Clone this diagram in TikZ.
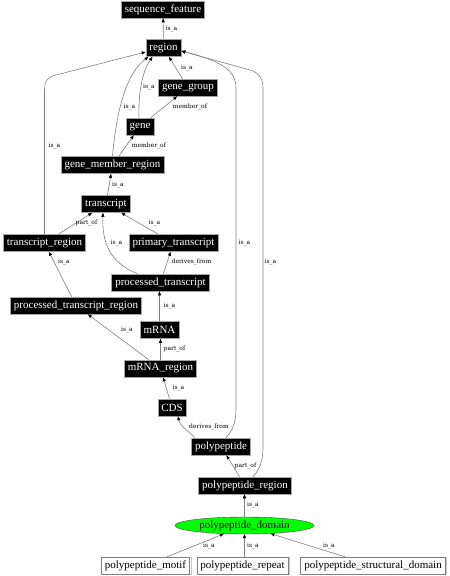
\documentclass[tikz,border=0pt]{standalone}
\usepackage{fontspec}
\setmainfont{Liberation Serif}
\newfontfamily\lblfont{DejaVu Serif}
\usetikzlibrary{arrows.meta,shapes.geometric}
\begin{document}
\begin{tikzpicture}[x=1pt,y=-1pt,
 box/.style={draw=gray!70,fill=black,text=white,font=\fontsize{11}{12}\selectfont,inner xsep=3.5pt,inner ysep=0pt,minimum height=17pt,line width=0.6pt},
 wbox/.style={box,fill=white,text=black,draw=gray,preaction={draw=gray!45,transform canvas={xshift=1.3pt,yshift=-0.6pt}}},
 edge/.style={draw=gray,line width=0.6pt,-{Triangle[length=4pt,width=3pt,color=black]}},
 lbl/.style={font=\lblfont\fontsize{6}{7}\selectfont,inner sep=0pt}]
\fill[white] (0,0) rectangle (450,576);
\useasboundingbox (0,0) rectangle (450,576);
% nodes
\node[box] (sf) at (163,9.5) {sequence\_feature};
\node[box] (region) at (163.5,48) {region};
\node[box] (gg) at (188,87.5) {gene\_group};
\node[box] (gene) at (140,126.5) {gene};
\node[box] (gmr) at (112.5,165) {gene\_member\_region};
\node[box] (tx) at (106,204) {transcript};
\node[box] (txreg) at (44.5,243) {transcript\_region};
\node[box] (prim) at (173.5,243) {primary\_transcript};
\node[box] (proc) at (160.5,282.5) {processed\_transcript};
\node[box] (procreg) at (76,305.5) {processed\_transcript\_region};
\node[box] (mrna) at (159.5,330) {mRNA};
\node[box] (mrnareg) at (160.5,368.5) {mRNA\_region};
\node[box] (cds) at (172,407.5) {CDS};
\node[box] (poly) at (221,446.5) {polypeptide};
\node[box] (polyreg) at (245,485.5) {polypeptide\_region};
\node[ellipse,draw=black!70,fill=green,minimum width=139pt,minimum height=17pt,inner sep=0pt,font=\fontsize{11}{12}\selectfont] (dom) at (244.5,525.5) {polypeptide\_domain};
\node[wbox] (motif) at (145.5,565.5) {polypeptide\_motif};
\node[wbox] (rep) at (242.5,565.5) {polypeptide\_repeat};
\node[wbox] (struct) at (373,565.5) {polypeptide\_structural\_domain};
% edges
\draw[edge] (region) -- (sf) node[lbl] at (171.5,29) {is\_a};
\draw[edge] (gg) -- (region) node[lbl] at (187,68) {is\_a};
\draw[edge] ([xshift=-1pt]gene.north) .. controls (138,92) and (143,70) .. ([xshift=-11pt]region.south) node[lbl] at (149,87) {is\_a};
\draw[edge] (gene) -- (gg) node[lbl] at (190,107) {member\_of};
\draw[edge] (gmr.north) .. controls (117,105) and (128,72) .. ([xshift=-15pt]region.south) node[lbl] at (129.5,107) {is\_a};
\draw[edge] (gmr) -- (gene) node[lbl] at (149,146) {member\_of};
\draw[edge] (tx) -- (gmr) node[lbl] at (118,185) {is\_a};
\draw[edge] (txreg.north) -- (44.5,90) .. controls (44.5,80) and (48,77) .. (56,75) -- ([yshift=-4pt]region.west) node[lbl] at (54.5,146) {is\_a};
\draw[edge] (txreg) -- (tx) node[lbl] at (86.5,223) {part\_of};
\draw[edge] (prim) -- (tx) node[lbl] at (154.5,223) {is\_a};
\draw[edge] ([xshift=-23pt]proc.north) .. controls (108,262) and (102,240) .. ([xshift=-3pt]tx.south) node[lbl] at (116.5,243) {is\_a};
\draw[edge] (proc) -- (prim) node[lbl] at (191.5,262) {derives\_from};
\draw[edge] (procreg) -- (txreg) node[lbl] at (64,262) {is\_a};
\draw[edge] (mrna) -- (mrna|-proc.south) node[lbl] at (169.5,306) {is\_a};
\draw[edge] (mrnareg) -- (procreg) node[lbl] at (127,330) {is\_a};
\draw[edge] (mrnareg) -- (mrnareg|-mrna.south) node[lbl] at (174.5,349) {part\_of};
\draw[edge] (cds) -- (mrnareg) node[lbl] at (178.5,388) {is\_a};
\draw[edge] ([xshift=-26pt]poly.north) .. controls (186,429) and (180,426) .. ([xshift=6pt]cds.south) node[lbl] at (209,427) {derives\_from};
\draw[edge] ([xshift=5pt]poly.north) .. controls (233,430) and (236,422) .. (236,408) -- (236,88) .. controls (236,72) and (225,62) .. ([yshift=-3pt]region.east) node[lbl] at (244.5,243) {is\_a};
\draw[edge] (polyreg) -- (poly) node[lbl] at (245.5,466) {part\_of};
\draw[edge] ([xshift=8pt]polyreg.north) .. controls (259,470) and (263,462) .. (263,448) -- (263,88) .. controls (263,78) and (258,72) .. (250,70) -- ([yshift=-3pt]region.east) node[lbl] at (270.5,262) {is\_a};
\draw[edge] (dom) -- (dom|-polyreg.south) node[lbl] at (253,505) {is\_a};
\draw[edge] (motif) -- (dom) node[lbl] at (209,546) {is\_a};
\draw[edge] (rep.north-|dom) -- (dom) node[lbl] at (253,546) {is\_a};
\draw[edge] (struct) -- (dom) node[lbl] at (329,546) {is\_a};
\end{tikzpicture}
\end{document}
